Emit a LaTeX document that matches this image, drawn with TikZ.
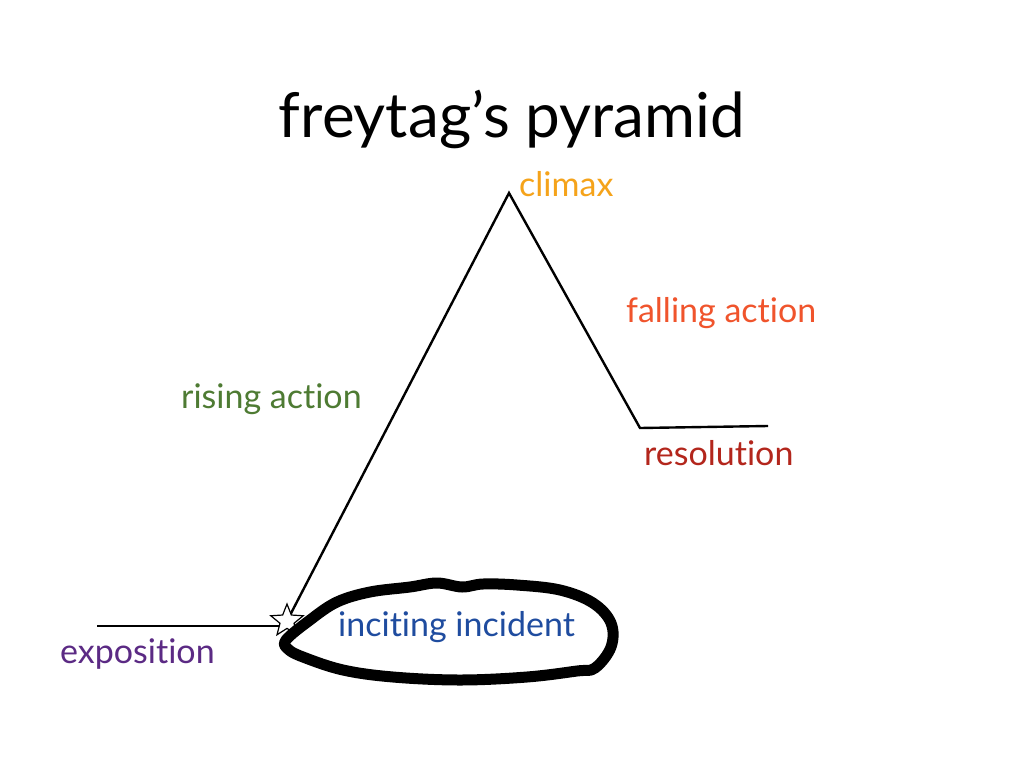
\documentclass[tikz,border=0pt]{standalone}
\usepackage{fontspec}
\setmainfont[Ligatures={NoCommon,NoRare}]{Lato}
\usetikzlibrary{shapes.geometric}
\definecolor{cclimax}{HTML}{F5A31A}
\definecolor{cfall}{HTML}{F0542C}
\definecolor{cres}{HTML}{B3261C}
\definecolor{crise}{HTML}{4E7B33}
\definecolor{cinc}{HTML}{1F4C9F}
\definecolor{cexpo}{HTML}{5B2A84}
\tikzset{
  lbl/.style={anchor=base west, inner sep=0pt, font=\fontsize{34}{40}\selectfont},
  plotline/.style={line width=2.4pt, black},
  starmark/.style={star, star points=5, star point ratio=2.3, minimum size=34pt, inner sep=0pt, draw=black, line width=1.2pt, fill=white},
  blob/.style={line width=11pt, black, line join=round}
}
\begin{document}
\begin{tikzpicture}[x=1pt,y=-1pt]
\useasboundingbox (0,0) rectangle (1024,768);
\fill[white] (0,0) rectangle (1024,768);
\node[anchor=base, inner sep=0pt, font=\fontsize{62}{70}\selectfont] (title) at (512,137) {freytag’s pyramid};
\coordinate (expo0) at (97,626);
\coordinate (expo1) at (285,626);
\coordinate (stc) at (287,621);
\coordinate (peak) at (509,193);
\coordinate (valley) at (640,428);
\coordinate (resend) at (768,426);
\draw[plotline] (expo0) -- (expo1);
\draw[plotline, line join=miter] (stc) -- (peak) -- (valley) -- (resend);
\node[starmark] (st) at (stc) {};
\draw[blob] plot[smooth cycle, tension=0.6] coordinates {
 (286,640) (310,620) (337,602) (370,592) (410,587) (437,583) (462,587) (483,584)
 (517,585) (560,590) (593,603) (611,623) (611,647) (595,668) (577,671) (527,677)
 (460,680) (393,677) (343,670) (303,657) (288,649)};
\node[lbl, text=cclimax] (climax) at (519,196) {climax};
\node[lbl, text=cfall] (fall) at (626,322) {falling action};
\node[lbl, text=crise] (rise) at (181,408) {rising action};
\node[lbl, text=cres] (res) at (644,465) {resolution};
\node[lbl, text=cinc] (inc) at (338,636) {inciting incident};
\node[lbl, text=cexpo] (expo) at (60,663) {exposition};
\end{tikzpicture}
\end{document}
